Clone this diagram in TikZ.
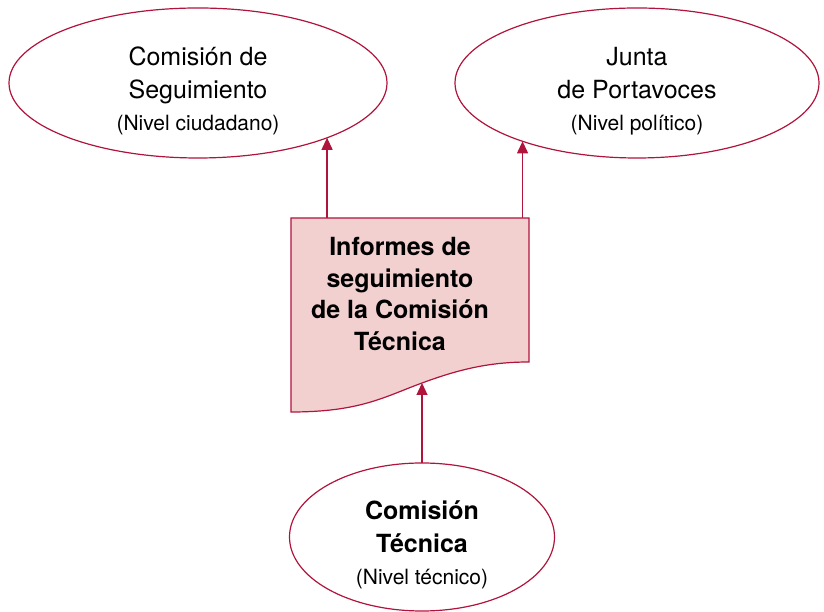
\documentclass[tikz,border=0pt]{standalone}
\usepackage{fontspec}
\setmainfont{TeX Gyre Heros}
\usetikzlibrary{shapes.geometric, arrows.meta}

\definecolor{granate}{RGB}{176,20,60}
\definecolor{rosa}{RGB}{242,208,207}

\tikzset{
    organo/.style={ellipse, draw=granate, line width=1.2pt, inner sep=0pt, outer sep=0pt,
        align=center, font=\fontsize{25}{32.5}\selectfont},
    enlace/.style={->, granate, line width=1.2pt}
}
\newcommand{\nivel}[1]{{\fontsize{21}{32.5}\selectfont #1}}
\newcommand{\tope}{\rule{0pt}{35pt}}

\begin{document}
\begin{tikzpicture}[x=1pt, y=1pt, >={Triangle[length=12pt, width=11pt]}]

            % the frame
            \useasboundingbox (0, 0) rectangle (824, 612);

            % the committees
            \node[organo, minimum width=378pt, minimum height=150pt] (seguimiento) at (198, 529)
                {\tope Comisión de\\ Seguimiento\\ \nivel{(Nivel ciudadano)}};
            \node[organo, minimum width=364pt, minimum height=150pt] (junta) at (637, 529)
                {\tope Junta\\ de Portavoces\\ \nivel{(Nivel político)}};
            \node[organo, minimum width=265pt, minimum height=148pt] (tecnica) at (422, 75)
                {\tope\textbf{Comisión}\\ \textbf{Técnica}\\ \nivel{(Nivel técnico)}};

            % the report
            \draw[granate, line width=1.2pt, fill=rosa] (291, 394) coordinate (dtop) -- (529, 394) -- (529, 250)
                .. controls (490, 250) and (460, 243) .. (422, 229) coordinate (wave)
                .. controls (384, 215) and (360, 200) .. (291, 200) -- cycle;
            \node[align=center, font=\fontsize{25}{31.7}\selectfont\bfseries] (informe) at (400, 318)
                {Informes de\\ seguimiento\\ de la Comisión\\ Técnica};

            % arrows
            \foreach \e/\a in {seguimiento/-23, junta/-153} {
                \draw[enlace] (\e.\a |- dtop) -- (\e.\a);
            }
            \draw[enlace] (tecnica.north) -- (wave);

\end{tikzpicture}
\end{document}
